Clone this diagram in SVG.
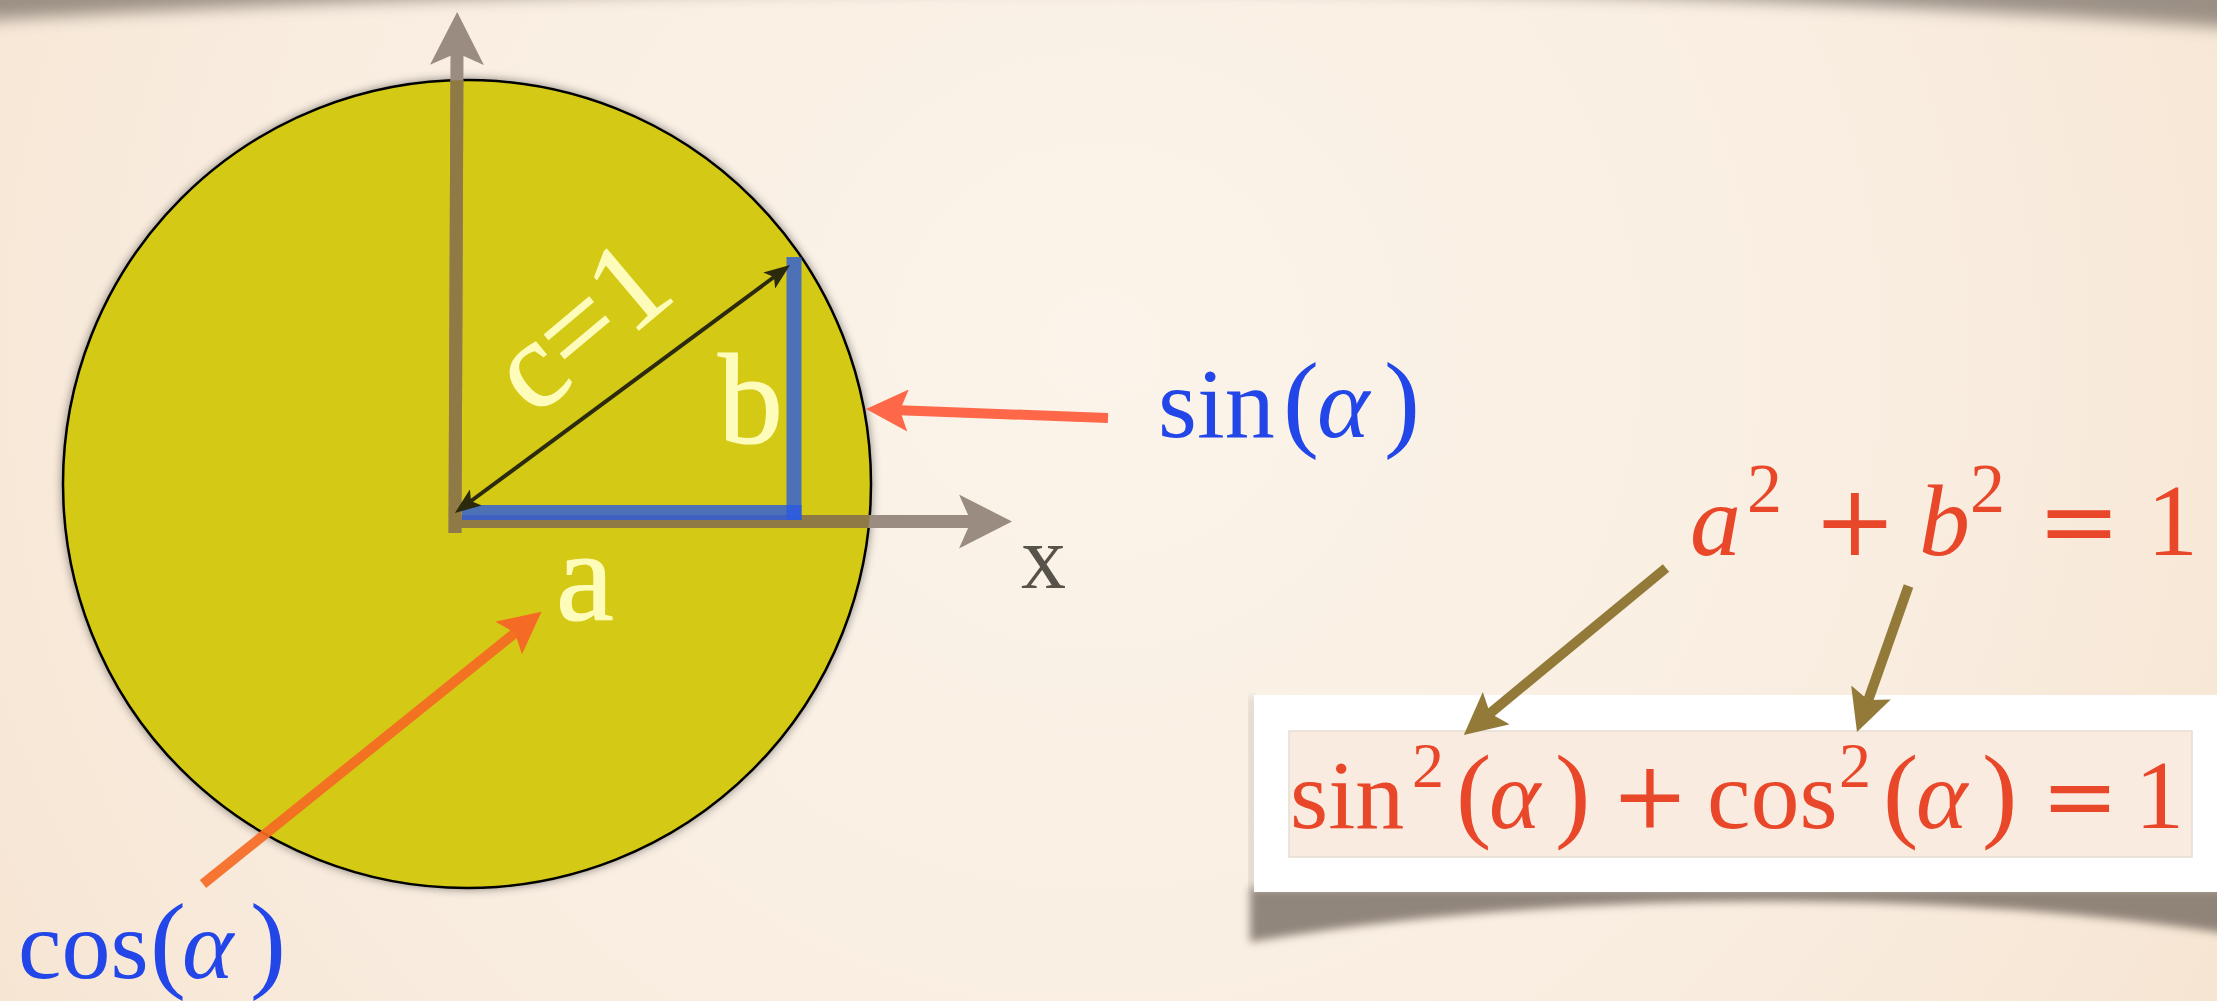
<svg xmlns="http://www.w3.org/2000/svg" width="2217" height="1001" viewBox="0 0 2217 1001">
  <defs>
    <radialGradient id="bg" cx="1100" cy="350" r="1400" gradientUnits="userSpaceOnUse">
      <stop offset="0" stop-color="#fbf4ea"/>
      <stop offset="0.6" stop-color="#f9ede0"/>
      <stop offset="1" stop-color="#f6e3cf"/>
    </radialGradient>
    <filter id="blur8" x="-10%" y="-100%" width="120%" height="300%">
      <feGaussianBlur stdDeviation="8"/>
    </filter>
    <filter id="blur4" x="-10%" y="-100%" width="120%" height="300%">
      <feGaussianBlur stdDeviation="4"/>
    </filter>
    <filter id="circShadow" x="-10%" y="-10%" width="120%" height="120%">
      <feDropShadow dx="0" dy="0" stdDeviation="5" flood-color="#000" flood-opacity="0.45"/>
    </filter>
    <clipPath id="circClip">
      <circle cx="467" cy="484" r="404"/>
    </clipPath>
    <marker id="axisHead" viewBox="0 0 53 54" refX="12" refY="27" markerWidth="53" markerHeight="54" markerUnits="userSpaceOnUse" orient="auto">
      <path d="M0,0 L53,27 L0,54 L12,27 Z" fill="#9b8c82"/>
    </marker>
    <marker id="thinHead" viewBox="0 0 26 20" refX="6" refY="10" markerWidth="26" markerHeight="20" markerUnits="userSpaceOnUse" orient="auto-start-reverse">
      <path d="M0,0 L26,10 L0,20 L6,10 Z" fill="#2c2a0c"/>
    </marker>
    <marker id="headOrange" viewBox="0 0 42 42" refX="8" refY="21" markerWidth="42" markerHeight="42" markerUnits="userSpaceOnUse" orient="auto">
      <path d="M0,0 L42,21 L0,42 L8,21 Z" fill="#f56a24"/>
    </marker>
    <marker id="headRed" viewBox="0 0 42 42" refX="8" refY="21" markerWidth="42" markerHeight="42" markerUnits="userSpaceOnUse" orient="auto">
      <path d="M0,0 L42,21 L0,42 L8,21 Z" fill="#fe6848"/>
    </marker>
    <marker id="headBrown" viewBox="0 0 42 42" refX="8" refY="21" markerWidth="42" markerHeight="42" markerUnits="userSpaceOnUse" orient="auto">
      <path d="M0,0 L42,21 L0,42 L8,21 Z" fill="#937a39"/>
    </marker>
    <style>
      .serif { font-family: "Liberation Serif", "Times New Roman", serif; }
      .sym { font-family: "DejaVu Serif", serif; }
      .it { font-style: italic; }
      .inlabel { fill: #fefcbb; stroke: #fefcbb; stroke-width: 1.2; font-family: "Liberation Serif", "Times New Roman", serif; }
      .blue { fill: #2246e8; }
      .red { fill: #e9472a; }
      .axis { stroke: #9b8c82; stroke-width: 13; fill: none; }
      .axisIn { stroke: #8f7a46; stroke-width: 13; fill: none; }
      .leg { stroke: #2a5ae0; stroke-opacity: 0.8; stroke-width: 15; fill: none; }
    </style>
  </defs>

  <!-- background -->
  <g id="background">
    <rect x="0" y="0" width="2217" height="1001" fill="url(#bg)"/>
    <path d="M-40,-40 L2260,-40 L2260,30 C1900,2 1500,-12 1100,-12 C700,-12 300,0 -40,22 Z" fill="#5e5750" opacity="0.6" filter="url(#blur8)"/>
  </g>

  <!-- unit circle -->
  <g id="circle">
    <circle cx="467" cy="484" r="404" fill="#d4ca12" stroke="#000" stroke-width="2.5" filter="url(#circShadow)"/>
  </g>

  <!-- formula box -->
  <g id="formula-box">
    <path d="M1250,888 L2235,888 L2235,935 C1950,888 1550,890 1250,942 Z" fill="#6e645a" opacity="0.75" filter="url(#blur4)"/>
    <rect x="1249" y="697" width="6" height="195" fill="#8a8078" opacity="0.35" filter="url(#blur4)"/>
    <rect x="1254" y="695" width="1000" height="197" fill="#ffffff"/>
    <rect x="1289" y="731" width="903" height="126" fill="#f9ebdf" stroke="#e6ddd3" stroke-width="1.5"/>
    <text class="serif red" y="828" font-size="98">
      <tspan x="1290">sin</tspan>
      <tspan x="1412" y="787" font-size="64">2</tspan>
      <tspan x="1456" y="828" font-size="106">(</tspan>
      <tspan x="1489" class="it">α</tspan>
      <tspan x="1555" font-size="106">)</tspan>
      <tspan x="1611" class="sym" font-size="93">+</tspan>
      <tspan x="1707">cos</tspan>
      <tspan x="1839" y="787" font-size="64">2</tspan>
      <tspan x="1883" y="828" font-size="106">(</tspan>
      <tspan x="1916" class="it">α</tspan>
      <tspan x="1982" font-size="106">)</tspan>
      <tspan x="2041" class="sym" font-size="93">=</tspan>
      <tspan x="2135">1</tspan>
    </text>
  </g>

  <!-- connectors -->
  <g id="connectors">
    <line class="axis" x1="455" y1="533" x2="457" y2="53" marker-end="url(#axisHead)"/>
    <line class="axis" x1="449" y1="521.5" x2="971" y2="521.5" marker-end="url(#axisHead)"/>
    <g clip-path="url(#circClip)">
      <line class="axisIn" x1="455" y1="533" x2="457" y2="53"/>
      <line class="axisIn" x1="449" y1="521.5" x2="971" y2="521.5"/>
    </g>
    <line class="leg" x1="462" y1="512.5" x2="801.5" y2="512.5"/>
    <line class="leg" x1="794" y1="257" x2="794" y2="520"/>
    <line x1="471" y1="501" x2="774" y2="277" stroke="#2c2a0c" stroke-width="4" marker-start="url(#thinHead)" marker-end="url(#thinHead)"/>
    <line x1="203" y1="884" x2="515" y2="633" stroke="#f56a24" stroke-opacity="0.92" stroke-width="10" marker-end="url(#headOrange)"/>
    <line x1="1108" y1="418" x2="900" y2="410.3" stroke="#fe6848" stroke-width="10" marker-end="url(#headRed)"/>
    <line x1="1666" y1="568" x2="1490" y2="713.3" stroke="#937a39" stroke-width="10" marker-end="url(#headBrown)"/>
    <line x1="1908.5" y1="586" x2="1868.3" y2="700" stroke="#937a39" stroke-width="10" marker-end="url(#headBrown)"/>
  </g>

  <!-- labels inside circle -->
  <g id="label-c">
    <text class="inlabel" font-size="125" transform="translate(534,418) rotate(-40)">c=1</text>
  </g>
  <g id="label-b">
    <text class="inlabel" x="718" y="443" font-size="130">b</text>
  </g>
  <g id="label-a">
    <text class="inlabel" x="556" y="620" font-size="130">a</text>
  </g>
  <g id="label-x">
    <text class="serif" x="1021" y="588" font-size="90" fill="#57534a">x</text>
  </g>

  <!-- sin label -->
  <g id="label-sin">
    <text class="serif blue" y="437" font-size="100">
      <tspan x="1158">sin</tspan>
      <tspan x="1283" font-size="108">(</tspan>
      <tspan x="1317" class="it">α</tspan>
      <tspan x="1384" font-size="108">)</tspan>
    </text>
  </g>

  <!-- cos label -->
  <g id="label-cos">
    <text class="serif blue" y="978" font-size="98">
      <tspan x="18">cos</tspan>
      <tspan x="150" font-size="108">(</tspan>
      <tspan x="182" class="it">α</tspan>
      <tspan x="250" font-size="108">)</tspan>
    </text>
  </g>

  <!-- a^2 + b^2 = 1 -->
  <g id="pythagoras">
    <text class="serif red" y="555" font-size="102">
      <tspan x="1690" class="it">a</tspan>
      <tspan x="1747" y="512" font-size="70">2</tspan>
      <tspan x="1813" y="555" class="sym" font-size="100">+</tspan>
      <tspan x="1919" class="it">b</tspan>
      <tspan x="1970" y="512" font-size="70">2</tspan>
      <tspan x="2037" y="555" class="sym" font-size="100">=</tspan>
      <tspan x="2147">1</tspan>
    </text>
  </g>
</svg>
